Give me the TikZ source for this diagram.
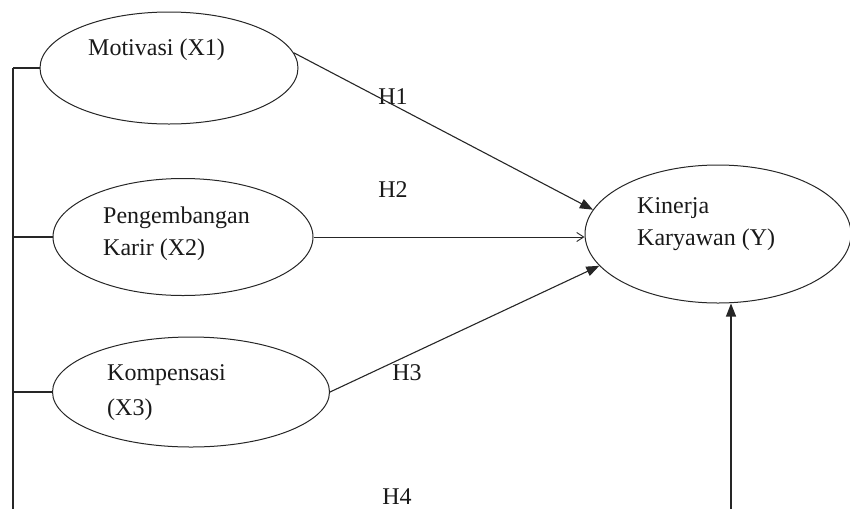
\documentclass[tikz,border=0pt]{standalone}
\usepackage{fontspec}
\setmainfont{Liberation Serif}
\usetikzlibrary{shapes.geometric,arrows.meta}
\tikzset{
  varbox/.style={ellipse, draw=black!85, line width=1pt, inner sep=0pt},
  lbl/.style={font=\fontsize{24}{28}\selectfont, inner sep=0pt, text=black!90},
  conn/.style={line width=1.1pt, draw=black!85},
  solidtip/.style={conn, -{Triangle[length=13pt,width=10pt]}},
  thintip/.style={line width=0.9pt, draw=black!85, -{Straight Barb[length=7pt,width=9pt,line width=0.9pt]}}
}
\begin{document}
\begin{tikzpicture}[x=1pt,y=-1pt]
\useasboundingbox (0,0) rectangle (850,509);
% ellipses
\node[varbox, minimum width=258pt, minimum height=112pt] (m) at (169,68) {};
\node[varbox, minimum width=260pt, minimum height=117pt] (p) at (183,237) {};
\node[varbox, minimum width=277pt, minimum height=110pt] (c) at (191,392) {};
\node[varbox, minimum width=266pt, minimum height=138pt] (k) at (718,234) {};
% texts
\node[lbl, anchor=west] (tm) at (88,50) {Motivasi (X1)};
\node[lbl, anchor=west] (tp1) at (103,218) {Pengembangan};
\node[lbl, anchor=west] (tp2) at (103,250) {Karir (X2)};
\node[lbl, anchor=west] (tc1) at (107,375) {Kompensasi};
\node[lbl, anchor=west] (tc2) at (107,410) {(X3)};
\node[lbl, anchor=west] (tk1) at (637,208) {Kinerja};
\node[lbl, anchor=west] (tk2) at (637,240) {Karyawan (Y)};
\node[lbl] (h1) at (393,97) {H1};
\node[lbl] (h2) at (393,190) {H2};
\node[lbl] (h3) at (407,373) {H3};
\node[lbl] (h4) at (397,497) {H4};
% left bus
\coordinate (bustop) at (13,68);
\coordinate (busbot) at (13,509);
\draw[conn] (bustop) -- (busbot);
\draw[conn] (bustop) -- (m.west);
\draw[conn] (p.west -| bustop) -- (p.west);
\draw[conn] (c.west -| bustop) -- (c.west);
% arrows
\draw[solidtip] (m.7) -- (k.169);
\draw[thintip] (p.east) -- (p.east -| k.west);
\draw[solidtip] (c.east) -- (k.195);
\coordinate (kb) at (731,509);
\draw[solidtip] (kb) -- (kb |- k.south);
\end{tikzpicture}
\end{document}
